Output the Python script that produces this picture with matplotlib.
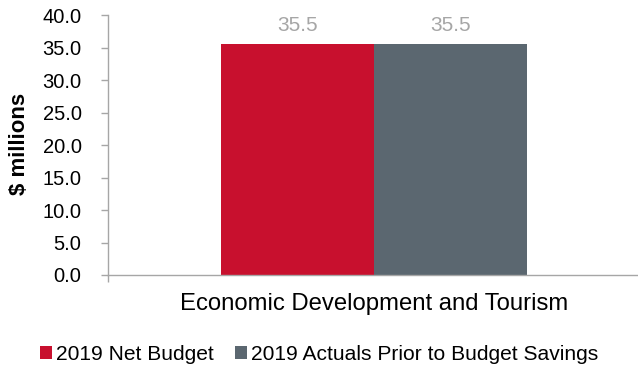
import matplotlib
matplotlib.use("Agg")
import matplotlib.pyplot as plt
from matplotlib.patches import Patch
from matplotlib.ticker import FormatStrFormatter

plt.rcParams['font.family'] = ['Liberation Sans', 'DejaVu Sans']

category = "Economic Development and Tourism"
series_names = ["2019 Net Budget", "2019 Actuals Prior to Budget Savings"]
series_values = [35.5, 35.5]
series_colors = ["#C8102E", "#5B6770"]
y_ticks = [0, 5, 10, 15, 20, 25, 30, 35, 40]

fig = plt.figure(figsize=(6.38, 3.69), dpi=100)
ax = fig.add_axes([108 / 638, 94 / 369, 530 / 638, 260 / 369])

bar_w = 0.288
offsets = [-bar_w / 2, bar_w / 2]
for name, val, col, off in zip(series_names, series_values, series_colors, offsets):
    ax.bar(off, val, width=bar_w, color=col, label=name)
    ax.text(off, val + 1.4, f"{val:.1f}", ha="center", va="bottom",
            fontsize=15, color="#A6A6A6")

ax.set_xlim(-0.502, 0.498)
ax.set_ylim(0, 40)
ax.set_yticks(y_ticks)
ax.yaxis.set_major_formatter(FormatStrFormatter("%.1f"))
ax.tick_params(axis="y", labelsize=14.5, length=5, color="#A6A6A6", width=1, pad=14)
ax.set_xticks([-0.502])
ax.set_xticklabels([""])
ax.tick_params(axis="x", length=5, color="#A6A6A6", width=1)

for s in ["top", "right"]:
    ax.spines[s].set_visible(False)
for s in ["left", "bottom"]:
    ax.spines[s].set_color("#A6A6A6")
    ax.spines[s].set_linewidth(1)

fig.text(374 / 638, 1 - 304 / 369, category,
         ha="center", va="center", fontsize=17.2, color="black")

fig.text(20 / 638, 1 - 144 / 369, "$ millions", rotation=90, ha="center",
         va="center", fontsize=16, fontweight="bold")

handles = [Patch(facecolor=c, edgecolor="none") for c in series_colors]
fig.legend(handles, series_names, loc="center", bbox_to_anchor=(319 / 638, 1 - 354 / 369),
           ncol=2, frameon=False, fontsize=15.1, handlelength=0.58, handleheight=0.58,
           handletextpad=0.2, columnspacing=1.0, borderpad=0)

fig.savefig("out.png", dpi=100)
